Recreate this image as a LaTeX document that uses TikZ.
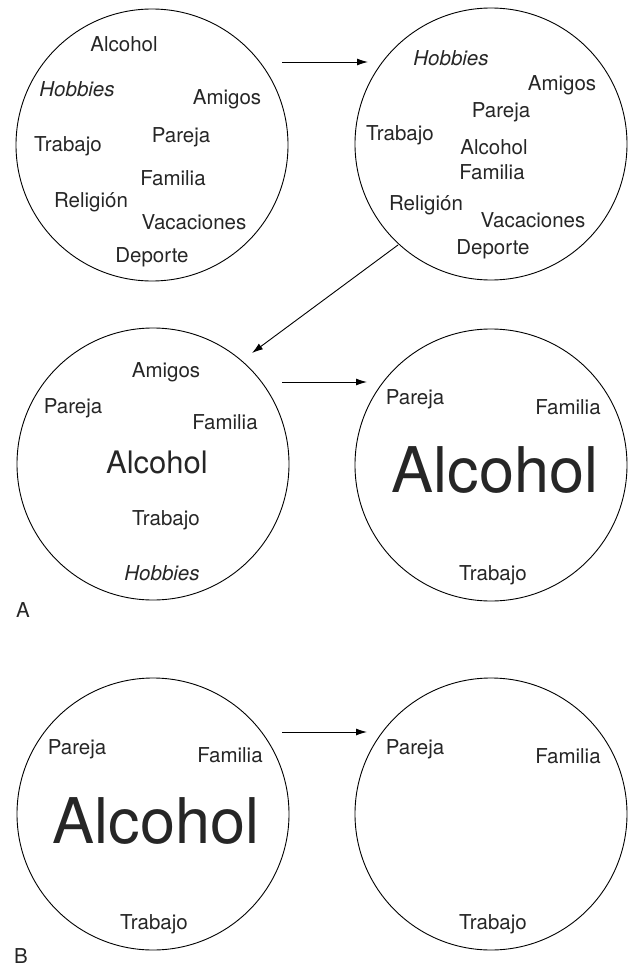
\documentclass[tikz,border=0pt]{standalone}
\usepackage{fontspec}
\setmainfont{TeX Gyre Heros}
\usetikzlibrary{arrows.meta}
\begin{document}
\begin{tikzpicture}[x=1pt,y=-1pt,
  ring/.style={circle,draw,line width=0.9pt,minimum size=272pt,inner sep=0pt},
  lbl/.style={anchor=base,inner sep=0pt,text=black!85,font=\fontsize{20.5}{24}\selectfont},
  lblit/.style={lbl,font=\fontsize{20.5}{24}\selectfont\itshape},
  midlbl/.style={anchor=base,inner sep=0pt,text=black!85,font=\fontsize{31}{36}\selectfont},
  biglbl/.style={anchor=base,inner sep=0pt,text=black!85,font=\fontsize{63}{72}\selectfont},
  arr/.style={-{Latex[length=11pt,width=7pt]},line width=0.9pt}]
\useasboundingbox (0,0) rectangle (633,974);
% circles
\node[ring] (c1) at (152,145) {};
\node[ring] (c2) at (491,144) {};
\node[ring] (c3) at (153,464) {};
\node[ring] (c4) at (491,465) {};
\node[ring] (c5) at (153,814) {};
\node[ring] (c6) at (491,814) {};
% circle 1
\node[lbl]   (t1alc) at (124,52)  {Alcohol};
\node[lblit] (t1hob) at (77,96)   {Hobbies};
\node[lbl]   (t1ami) at (227,104) {Amigos};
\node[lbl]   (t1par) at (181,142) {Pareja};
\node[lbl]   (t1tra) at (68,151)  {Trabajo};
\node[lbl]   (t1fam) at (173,185) {Familia};
\node[lbl]   (t1rel) at (91,207)  {Religión};
\node[lbl]   (t1vac) at (194,229) {Vacaciones};
\node[lbl]   (t1dep) at (152,262) {Deporte};
% circle 2
\node[lblit] (t2hob) at (451,66)  {Hobbies};
\node[lbl]   (t2ami) at (562,90)  {Amigos};
\node[lbl]   (t2par) at (501,117) {Pareja};
\node[lbl]   (t2tra) at (400,140) {Trabajo};
\node[lbl]   (t2alc) at (494,154) {Alcohol};
\node[lbl]   (t2fam) at (492,179) {Familia};
\node[lbl]   (t2rel) at (426,210) {Religión};
\node[lbl]   (t2vac) at (533,227) {Vacaciones};
\node[lbl]   (t2dep) at (493,254) {Deporte};
% circle 3
\node[lbl]    (t3ami) at (166,377) {Amigos};
\node[lbl]    (t3par) at (73,413)  {Pareja};
\node[lbl]    (t3fam) at (225,429) {Familia};
\node[midlbl] (t3alc) at (157,473) {Alcohol};
\node[lbl]    (t3tra) at (166,525) {Trabajo};
\node[lblit]  (t3hob) at (162,580) {Hobbies};
\node[lbl]    (labA)  at (23,617)  {A};
% circle 4
\node[lbl]    (t4par) at (415,404) {Pareja};
\node[lbl]    (t4fam) at (568,414) {Familia};
\node[biglbl] (t4alc) at (495,492) {Alcohol};
\node[lbl]    (t4tra) at (493,580) {Trabajo};
% circle 5
\node[lbl]    (t5par) at (77,754)  {Pareja};
\node[lbl]    (t5fam) at (230,762) {Familia};
\node[biglbl] (t5alc) at (156,843) {Alcohol};
\node[lbl]    (t5tra) at (154,929) {Trabajo};
\node[lbl]    (labB)  at (21,963)  {B};
% circle 6
\node[lbl]    (t6par) at (415,754) {Pareja};
\node[lbl]    (t6fam) at (568,763) {Familia};
\node[lbl]    (t6tra) at (493,929) {Trabajo};
% arrows
\coordinate (a1s) at (282,62);
\coordinate (a1e) at (368,62);
\coordinate (a2s) at (398,245);
\coordinate (a2e) at (252,353);
\coordinate (a3s) at (282,382);
\coordinate (a3e) at (367,382);
\coordinate (a4s) at (282,732);
\coordinate (a4e) at (367,732);
\draw[arr] (a1s) -- (a1e);
\draw[arr] (a2s) -- (a2e);
\draw[arr] (a3s) -- (a3e);
\draw[arr] (a4s) -- (a4e);
\end{tikzpicture}
\end{document}
